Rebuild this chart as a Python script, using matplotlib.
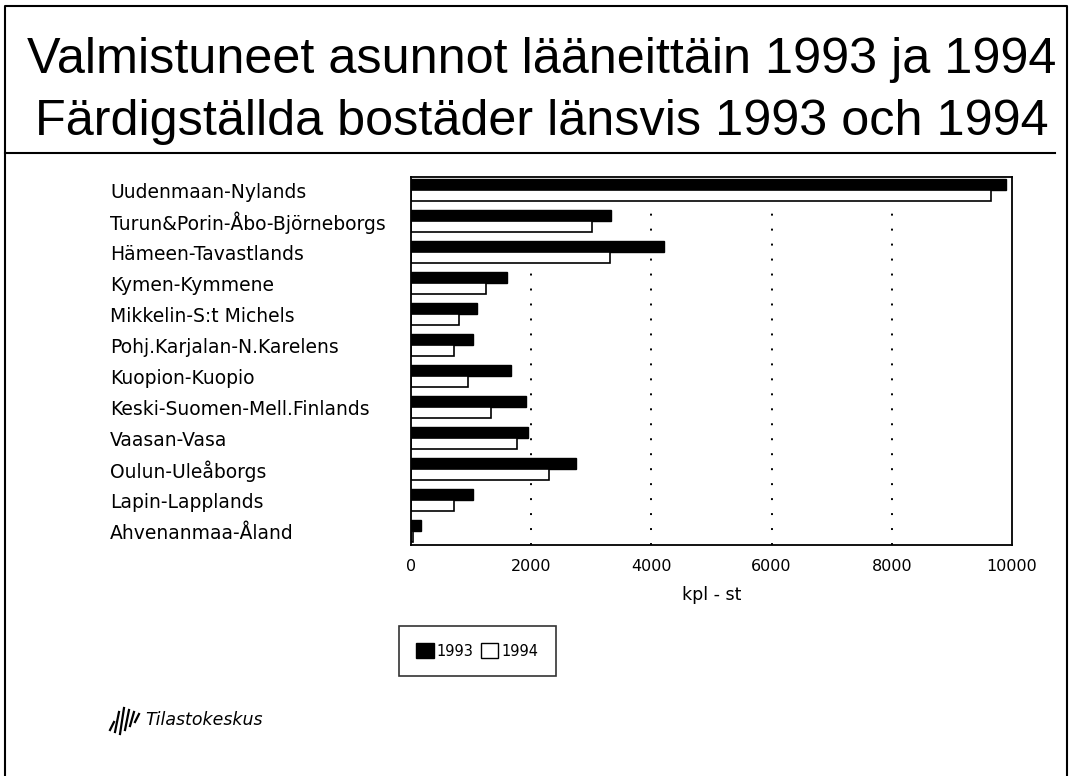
import matplotlib.pyplot as plt
from matplotlib.patches import Patch
from matplotlib.lines import Line2D

# Data
regions = [
    "Uudenmaan-Nylands",
    "Turun&Porin-Åbo-Björneborgs",
    "Hämeen-Tavastlands",
    "Kymen-Kymmene",
    "Mikkelin-S:t Michels",
    "Pohj.Karjalan-N.Karelens",
    "Kuopion-Kuopio",
    "Keski-Suomen-Mell.Finlands",
    "Vaasan-Vasa",
    "Oulun-Uleåborgs",
    "Lapin-Lapplands",
    "Ahvenanmaa-Åland",
]
values_1993 = [9900, 3330, 4210, 1600, 1100, 1030, 1670, 1920, 1950, 2750, 1030, 160]
values_1994 = [9650, 3010, 3310, 1250, 800, 720, 950, 1330, 1770, 2300, 720, 40]
xticks = [0, 2000, 4000, 6000, 8000, 10000]

plt.rcParams["font.family"] = ["Liberation Sans", "DejaVu Sans"]

fig = plt.figure(figsize=(10.73, 7.76), dpi=100)
ax = fig.add_axes([411 / 1073, 1 - 545 / 776, 601 / 1073, 368 / 776])

pos = list(range(len(regions)))
h = 0.355
ax.barh([p - h / 2 for p in pos], values_1993, height=h, color="black",
        edgecolor="black", linewidth=1)
ax.barh([p + h / 2 for p in pos], values_1994, height=h, color="white",
        edgecolor="black", linewidth=1.2)

ax.set_xlim(0, 10000)
ax.set_ylim(11.45, -0.42)
ax.set_xticks(xticks)
ax.set_xticklabels([str(t) for t in xticks], fontsize=11.5, family="DejaVu Sans")
ax.set_yticks(pos)
ax.set_yticklabels(regions, fontsize=13.5, ha="left", family="DejaVu Sans")
ax.tick_params(axis="y", length=0, pad=(411 - 110) * 0.72)
ax.tick_params(axis="x", length=0, pad=10)
ax.set_xlabel("kpl - st", fontsize=12.5, labelpad=9, family="DejaVu Sans")

for t in xticks[1:-1]:
    ax.axvline(t, color="black", linestyle=(0, (1, 6.7)), linewidth=1.4, zorder=0)

for s in ax.spines.values():
    s.set_linewidth(1.3)

# Legend
handles = [Patch(facecolor="black", edgecolor="black", label="1993"),
           Patch(facecolor="white", edgecolor="black", label="1994")]
leg = fig.legend(handles=handles, loc="center", bbox_to_anchor=(477 / 1073, 1 - 651 / 776),
                 ncol=2, frameon=True, fancybox=False, borderpad=1.2,
                 handlelength=1.2, handleheight=1.2, handletextpad=0.2, columnspacing=0.5,
                 borderaxespad=0, prop={"family": "DejaVu Sans", "size": 10.5})
leg.get_frame().set_edgecolor("black")
leg.get_frame().set_linewidth(1.2)

# Titles
fig.text(542 / 1073, 1 - 60 / 776, "Valmistuneet asunnot lääneittäin 1993 ja 1994",
         ha="center", va="center", fontsize=36.3)
fig.text(542 / 1073, 1 - 122 / 776, "Färdigställda bostäder länsvis 1993 och 1994",
         ha="center", va="center", fontsize=36.3)

# Frame and separator
fig.add_artist(Line2D([5 / 1073, 1055 / 1073], [1 - 153 / 776] * 2,
                      transform=fig.transFigure, color="black", linewidth=1.5))
fig.add_artist(Line2D([5 / 1073, 5 / 1073, 1067 / 1073, 1067 / 1073],
                      [0, 1 - 6 / 776, 1 - 6 / 776, 0],
                      transform=fig.transFigure, color="black", linewidth=1.5))

# Logo
for x0, y0, y1 in [(110, 722, 730), (115, 712, 732), (120, 708, 734), (125, 710, 730),
                   (130, 712, 726), (135, 714, 722)]:
    fig.add_artist(Line2D([x0 / 1073, (x0 + 4) / 1073], [1 - y1 / 776, 1 - y0 / 776],
                          transform=fig.transFigure, color="black", linewidth=1.6))
fig.text(145 / 1073, 1 - 720 / 776, "Tilastokeskus", ha="left", va="center",
         fontsize=12.5, style="italic", family="DejaVu Sans")

fig.savefig("out.png", dpi=100)
